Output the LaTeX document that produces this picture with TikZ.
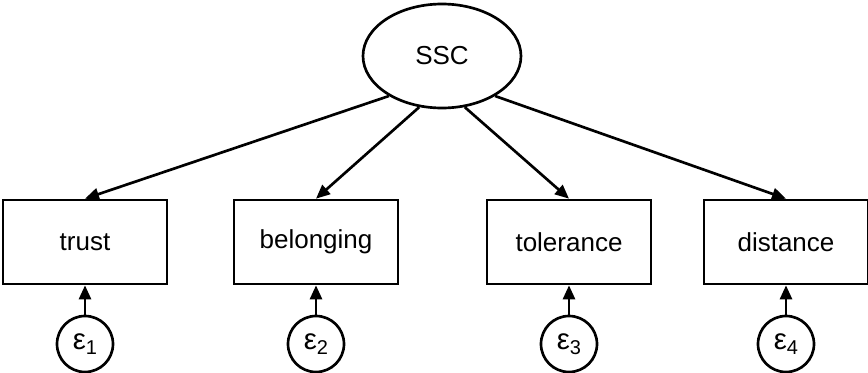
\documentclass[tikz,border=0pt]{standalone}
\usepackage{fontspec}
\setmainfont{Liberation Sans}
\usetikzlibrary{shapes.geometric,arrows.meta}
\begin{document}
\begin{tikzpicture}[x=0.75pt,y=-0.75pt,
  lat/.style={ellipse,draw,line width=2pt,minimum width=118.5pt,minimum height=78pt,inner sep=0pt,font=\fontsize{19.5}{23}\selectfont},
  obs/.style={rectangle,draw,line width=2pt,minimum width=123pt,minimum height=63pt,inner sep=0pt,font=\fontsize{19.5}{23}\selectfont},
  err/.style={circle,draw,line width=2pt,minimum size=42pt,inner sep=0pt,font=\fontsize{22}{26}\selectfont},
  path/.style={line width=2pt,-{Triangle[length=10.5pt,width=9pt]}}]
\useasboundingbox (0,0) rectangle (868,372);
\node[lat] (ssc) at (442,56) {SSC};
\node[obs] (trust) at (85,242) {trust};
\node[obs] (belonging) at (316,242) {belonging};
\node[obs] (tolerance) at (569,242) {tolerance};
\node[obs] (distance) at (786,242) {distance};
\node[err] (e1) at (85,344) {ε\raisebox{-0.35ex}{\fontsize{15}{17}\selectfont 1}};
\node[err] (e2) at (316,344) {ε\raisebox{-0.35ex}{\fontsize{15}{17}\selectfont 2}};
\node[err] (e3) at (569,344) {ε\raisebox{-0.35ex}{\fontsize{15}{17}\selectfont 3}};
\node[err] (e4) at (786,344) {ε\raisebox{-0.35ex}{\fontsize{15}{17}\selectfont 4}};
\draw[path] (ssc.217) -- (trust.north);
\draw[path] (ssc.246) -- (belonging.north);
\draw[path] (ssc.294) -- (tolerance.north);
\draw[path] (ssc.323) -- (distance.north);
\draw[path] (e1) -- (trust);
\draw[path] (e2) -- (belonging);
\draw[path] (e3) -- (tolerance);
\draw[path] (e4) -- (distance);
\end{tikzpicture}
\end{document}
